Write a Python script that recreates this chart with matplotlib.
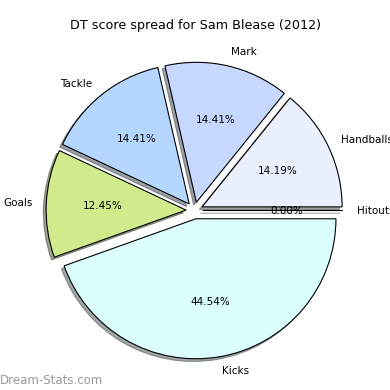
import matplotlib
matplotlib.use('Agg')
import matplotlib.pyplot as plt

etiquetas = ['Hitouts', 'Handballs', 'Mark', 'Tackle', 'Goals', 'Kicks']
porcentajes = [0.00, 14.19, 14.41, 14.41, 12.45, 44.54]
colores = ['#ffffff', '#eaf0ff', '#c6d8ff', '#b5d6ff', '#d0ea8c', '#dbffff']
separacion = [0.06] * len(etiquetas)

fig = plt.figure(figsize=(3.9, 3.9), dpi=100)
# el pastel centrado en (194.5, 210.5) px, radio ~140 px
ax = fig.add_axes([19.5 / 390, 4.5 / 390, 350 / 390, 350 / 390])

wedges, textos, autotextos = ax.pie(
    porcentajes, labels=etiquetas, colors=colores, explode=separacion,
    autopct='%1.2f%%', shadow={'ox': -0.014, 'oy': -0.014}, startangle=0,
    labeldistance=1.1, pctdistance=0.6,
    wedgeprops={'edgecolor': 'black', 'linewidth': 0.8},
    textprops={'fontsize': 7.5})

ax.set_xlim(-1.25, 1.25)
ax.set_ylim(-1.25, 1.25)
ax.set_aspect('equal')

fig.text(0.5, 1 - 25 / 390, 'DT score spread for Sam Blease (2012)',
         ha='center', va='center', fontsize=9.2)
fig.text(0.0, 1 - 380 / 390, 'Dream-Stats.com', ha='left', va='center',
         fontsize=8.5, color='#999999')

fig.savefig('out.png', dpi=100)
